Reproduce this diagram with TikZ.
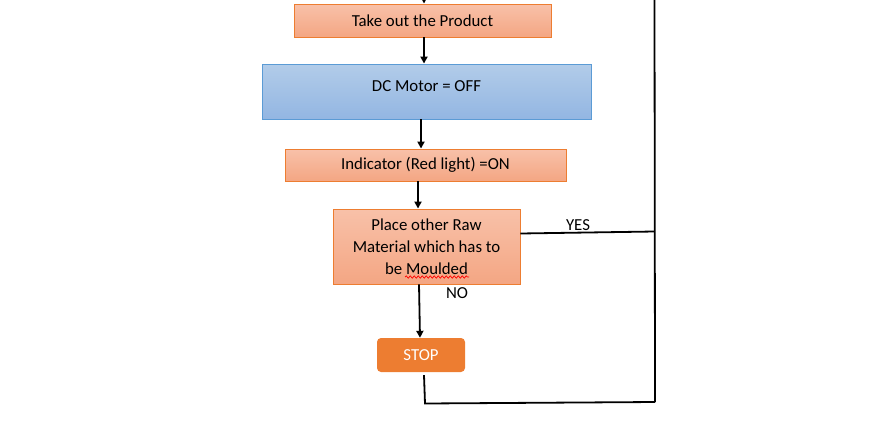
\documentclass[tikz,border=0pt]{standalone}
\usepackage{fontspec}
\setmainfont{Carlito}
\usetikzlibrary{arrows.meta,decorations.pathmorphing}
\definecolor{orBorder}{HTML}{ED7D31}
\definecolor{orTop}{HTML}{F8C1A9}
\definecolor{orBot}{HTML}{F4A683}
\definecolor{blBorder}{HTML}{5B9BD5}
\definecolor{blTop}{HTML}{B2CCE9}
\definecolor{blBot}{HTML}{93B6E2}
\tikzset{
  procbox/.style={draw=orBorder, line width=0.9pt, top color=orTop, bottom color=orBot, inner sep=0pt, align=center, font=\fontsize{16.8}{21.8}\selectfont},
  bluebox/.style={draw=blBorder, line width=0.9pt, top color=blTop, bottom color=blBot, inner sep=0pt, align=center, font=\fontsize{16.8}{21.8}\selectfont},
  stopbox/.style={fill=orBorder, rounded corners=4pt, inner sep=0pt, text=white, font=\fontsize{16.8}{20}\selectfont},
  arr/.style={line width=1.8pt, -{Triangle[length=7pt,width=7pt]}},
  ln/.style={line width=1.8pt},
  lbl/.style={font=\fontsize{16.8}{20}\selectfont, inner sep=0pt}
}
\begin{document}
\begin{tikzpicture}[x=1pt,y=-1pt]
\useasboundingbox (0,0) rectangle (888,442);
\node[procbox, minimum width=257pt, minimum height=33pt] (take) at (422.5,20.5) {Take out the Product};
\node[bluebox, minimum width=329pt, minimum height=55pt, text depth=0pt] (dc) at (426.5,91.5) {\raisebox{11pt}{DC Motor = OFF}};
\node[procbox, minimum width=281pt, minimum height=32pt] (ind) at (425.5,165) {Indicator (Red light) =ON};
\node[procbox, minimum width=187pt, minimum height=75pt] (place) at (426.5,246.5) {Place other Raw\\Material which has to\\be Moulded};
\node[stopbox, minimum width=88pt, minimum height=34pt] (stop) at (421,355) {\raisebox{-1.5pt}{STOP}};
\coordinate (top) at (424,0);
\coordinate (rtop) at (654.5,0);
\coordinate (rbot) at (655,402);
\coordinate (yesj) at (654.5,231.5);
\coordinate (botl) at (425,403.5);
\draw[arr] (top) -- (top |- take.north);
\draw[arr] ([xshift=1.5pt]take.south) -- ([xshift=1.5pt]take.south |- dc.north);
\draw[arr] ([xshift=-5.5pt]dc.south) -- ([xshift=-5.5pt]dc.south |- ind.north);
\draw[arr] ([xshift=-7.5pt]ind.south) -- ([xshift=-7.5pt]ind.south |- place.north);
\draw[arr] ([xshift=-7.5pt]place.south) -- ([xshift=-1pt]stop.north);
\draw[ln] (place.east |- 0,233.5) -- (yesj);
\draw[ln] (rtop) -- (rbot);
\draw[ln] ([xshift=3pt,yshift=-3pt]stop.south) -- (botl) -- (rbot);
\node[lbl] (yes) at (578,225) {YES};
\node[lbl] (no) at (457,293) {NO};
\draw[red, line width=0.7pt, decorate, decoration={snake, amplitude=1.2pt, segment length=4pt}] (405,277) -- (469,277);
\end{tikzpicture}
\end{document}
